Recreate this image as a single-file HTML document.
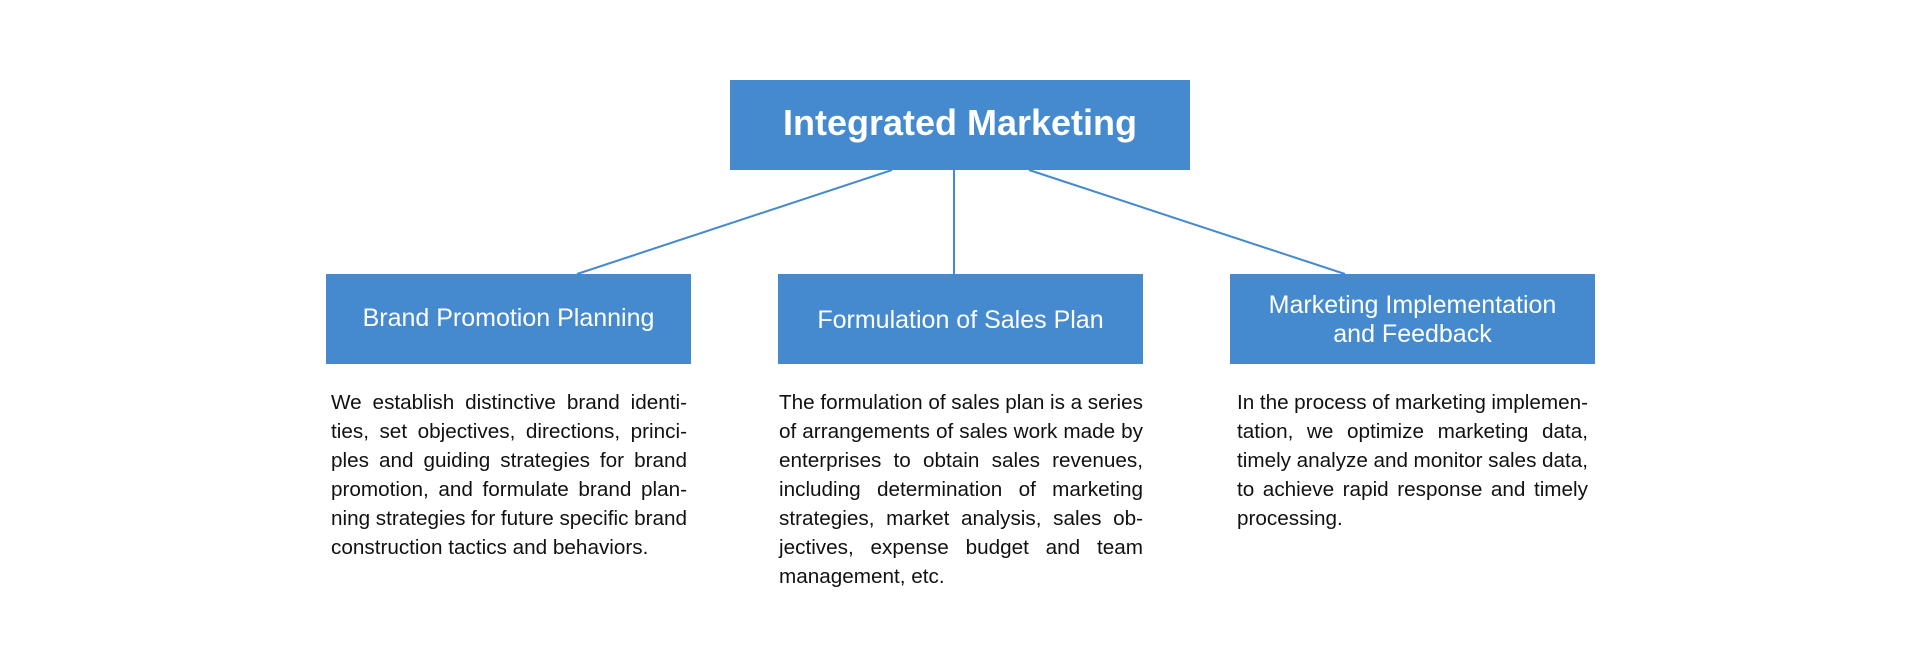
<!DOCTYPE html>
<html>
<head>
<meta charset="utf-8">
<style>
  html, body { margin:0; padding:0; }
  body { width:1920px; height:670px; background:#ffffff; position:relative; overflow:hidden;
         font-family:"Liberation Sans", Arial, sans-serif; }
  .box { position:absolute; background:#458ACE; }
  .hd { position:absolute; color:#ffffff; text-align:center; white-space:nowrap; }
  .body { position:absolute; color:#111111; font-size:20.7px; line-height:29px; }
  .j { text-align:justify; text-align-last:justify; word-spacing:-4px; }
  .l { text-align:left; }
  svg { position:absolute; left:0; top:0; }
</style>
</head>
<body>
<svg width="1920" height="670" viewBox="0 0 1920 670">
  <line x1="892" y1="170" x2="577" y2="274" stroke="#458ACE" stroke-width="2"/>
  <line x1="954" y1="170" x2="954" y2="274" stroke="#458ACE" stroke-width="2"/>
  <line x1="1029" y1="170" x2="1345" y2="274" stroke="#458ACE" stroke-width="2"/>
</svg>

<div class="box" style="left:730px;top:80px;width:460px;height:90px;"></div>
<div class="hd" style="left:730px;top:103px;width:460px;font-size:36px;line-height:40px;font-weight:bold;">Integrated Marketing</div>

<div class="box" style="left:326px;top:274px;width:365px;height:90px;"></div>
<div class="hd" style="left:326px;top:303px;width:365px;font-size:25px;line-height:30px;">Brand Promotion Planning</div>

<div class="box" style="left:778px;top:274px;width:365px;height:90px;"></div>
<div class="hd" style="left:778px;top:305px;width:365px;font-size:25px;line-height:30px;">Formulation of Sales Plan</div>

<div class="box" style="left:1230px;top:274px;width:365px;height:90px;"></div>
<div class="hd" style="left:1230px;top:291px;width:365px;font-size:25px;line-height:29px;">Marketing Implementation<br>and Feedback</div>

<div class="body" style="left:331px;top:388px;width:356px;">
  <div class="j">We establish distinctive brand identi-</div>
  <div class="j">ties, set objectives, directions, princi-</div>
  <div class="j">ples and guiding strategies for brand</div>
  <div class="j">promotion, and formulate brand plan-</div>
  <div class="j">ning strategies for future specific brand</div>
  <div class="l">construction tactics and behaviors.</div>
</div>

<div class="body" style="left:779px;top:388px;width:364px;">
  <div class="j">The formulation of sales plan is a series</div>
  <div class="j">of arrangements of sales work made by</div>
  <div class="j">enterprises to obtain sales revenues,</div>
  <div class="j">including determination of marketing</div>
  <div class="j">strategies, market analysis, sales ob-</div>
  <div class="j">jectives, expense budget and team</div>
  <div class="l">management, etc.</div>
</div>

<div class="body" style="left:1237px;top:388px;width:351px;">
  <div class="j">In the process of marketing implemen-</div>
  <div class="j">tation, we optimize marketing data,</div>
  <div class="j">timely analyze and monitor sales data,</div>
  <div class="j">to achieve rapid response and timely</div>
  <div class="l">processing.</div>
</div>
</body>
</html>
